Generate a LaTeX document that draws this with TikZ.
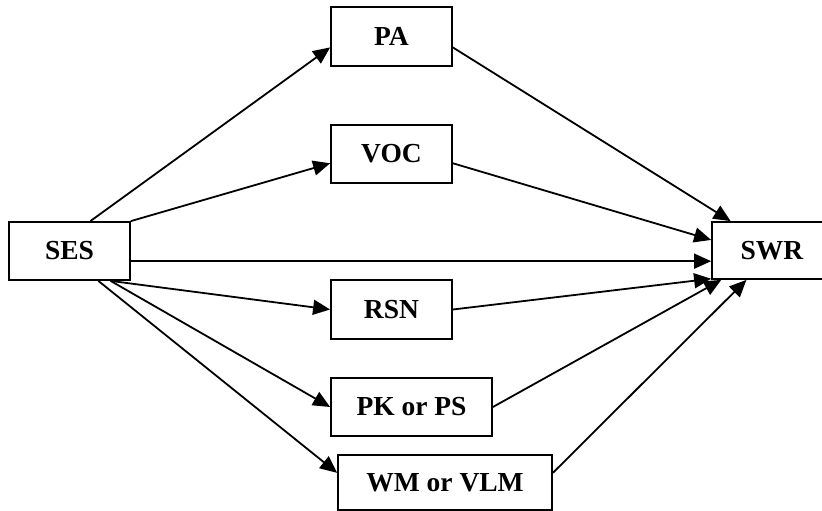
\documentclass[tikz,border=0pt]{standalone}
\usepackage{fontspec}
\setmainfont{Liberation Serif}
\usetikzlibrary{arrows.meta,calc}
\begin{document}
\begin{tikzpicture}[x=1pt,y=1pt,
  box/.style={draw,line width=1.8pt,rectangle,inner sep=0pt,font=\fontsize{27.5}{30}\selectfont\bfseries},
  conn/.style={line width=1.8pt,-{Triangle[length=17pt,width=15pt]}}]
\useasboundingbox (0,0) rectangle (822,-511);
\node[box,minimum width=121pt,minimum height=58pt] (ses) at (69.5,-251) {SES};
\node[box,minimum width=121pt,minimum height=59pt] (pa) at (391.5,-36.5) {PA};
\node[box,minimum width=121pt,minimum height=58pt] (voc) at (391.5,-154) {VOC};
\node[box,minimum width=121pt,minimum height=59pt] (rsn) at (391.5,-309.5) {RSN};
\node[box,minimum width=161pt,minimum height=58pt] (pk) at (411.5,-407) {PK or PS};
\node[box,minimum width=214pt,minimum height=55pt] (wm) at (445,-482.5) {WM or VLM};
\node[box,minimum width=120pt,minimum height=57pt] (swr) at (772,-250.5) {SWR};
% from SES
\draw[conn] ($(ses.north west)!0.67!(ses.north east)$) -- ($(pa.north west)!0.68!(pa.south west)$);
\draw[conn] (ses.north east) -- ($(voc.north west)!0.655!(voc.south west)$);
\coordinate (sesr) at ($(ses.north east)!0.67!(ses.south east)$);
\draw[conn] (sesr) -- (sesr -| swr.west);
\draw[conn] ($(ses.south west)!0.835!(ses.south east)$) -- (rsn.west);
\draw[conn] ($(ses.south west)!0.835!(ses.south east)$) -- (pk.west);
\draw[conn] ($(ses.south west)!0.735!(ses.south east)$) -- ($(wm.north west)!0.33!(wm.south west)$);
% to SWR
\draw[conn] ($(pa.north east)!0.68!(pa.south east)$) -- ($(swr.north west)!0.16!(swr.north east)$);
\draw[conn] ($(voc.north east)!0.655!(voc.south east)$) -- ($(swr.north west)!0.32!(swr.south west)$);
\draw[conn] (rsn.east) -- ($(swr.north west)!0.98!(swr.south west)$);
\draw[conn] (pk.east) -- ($(swr.south west)!0.083!(swr.south east)$);
\draw[conn] ($(wm.north east)!0.33!(wm.south east)$) -- ($(swr.south west)!0.29!(swr.south east)$);
\end{tikzpicture}
\end{document}
